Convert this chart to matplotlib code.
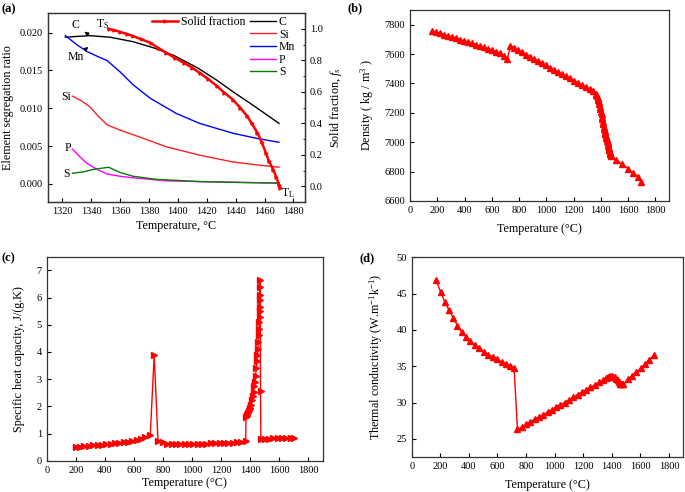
import matplotlib
matplotlib.use("Agg")
import matplotlib.pyplot as plt

plt.rcParams['font.family'] = ['Liberation Serif', 'DejaVu Serif']
plt.rcParams['mathtext.fontset'] = 'custom'
plt.rcParams['mathtext.rm'] = 'Liberation Serif'
plt.rcParams['mathtext.it'] = 'Liberation Serif:italic'
plt.rcParams['xtick.direction'] = 'in'
plt.rcParams['ytick.direction'] = 'in'

# ---------------- Panel (a) data ----------------
c_T = [1322, 1330, 1339, 1353, 1369, 1383, 1397, 1414, 1427, 1438, 1452, 1470]
c_v = [0.0194, 0.0195, 0.0196, 0.0194, 0.0188, 0.0180, 0.0170, 0.0153, 0.0137, 0.0122, 0.0104, 0.0080]
mn_T = [1322, 1330, 1337, 1345, 1351, 1360, 1369, 1381, 1399, 1415, 1438, 1455, 1470]
mn_v = [0.0196, 0.0184, 0.0175, 0.0168, 0.0163, 0.0148, 0.0131, 0.0113, 0.0093, 0.0080, 0.0067, 0.0060, 0.0055]
si_T = [1327, 1333, 1339, 1345, 1351, 1360, 1369, 1392, 1415, 1438, 1455, 1470]
si_v = [0.0116, 0.0110, 0.0102, 0.0089, 0.0078, 0.0071, 0.0065, 0.0049, 0.0038, 0.0029, 0.0025, 0.0022]
p_T = [1327, 1332, 1337, 1344, 1351, 1360, 1369, 1392, 1415, 1440, 1470]
p_v = [0.0046, 0.0036, 0.0027, 0.0019, 0.0013, 0.0010, 0.0008, 0.0004, 0.0003, 0.0002, 0.0001]
s_T = [1327, 1335, 1341, 1352, 1360, 1369, 1385, 1415, 1440, 1470]
s_v = [0.0014, 0.0016, 0.0019, 0.0022, 0.0015, 0.0010, 0.0006, 0.0003, 0.0002, 0.0001]
fs_T = [1352, 1356, 1360, 1365, 1369, 1375, 1381, 1386, 1392, 1398, 1404, 1410, 1415, 1421,
        1427, 1432, 1438, 1443, 1448, 1451, 1455, 1458, 1461, 1463, 1466, 1468, 1470, 1471]
fs_v = [1.00, 0.99, 0.98, 0.965, 0.953, 0.932, 0.91, 0.88, 0.847, 0.815, 0.784, 0.752, 0.72, 0.68,
        0.636, 0.595, 0.55, 0.50, 0.445, 0.40, 0.34, 0.28, 0.21, 0.16, 0.106, 0.06, 0.01, -0.01]

# ---------------- Panel (b) data ----------------
dens_T = [164, 193, 222, 251, 280, 309, 338, 367, 396, 425, 454, 483, 512, 541, 570, 599, 628, 657,
          686, 713,
          737, 766, 795, 824, 853, 882, 911, 940, 969, 998, 1027, 1056, 1085, 1114, 1143, 1172,
          1201, 1230, 1259, 1288, 1317, 1343,
          1363, 1368, 1372, 1376, 1380, 1384, 1388, 1392, 1397, 1401, 1405, 1409, 1412, 1415,
          1418, 1421, 1424, 1427, 1430, 1433, 1436, 1439, 1442, 1445, 1449, 1452, 1455, 1458,
          1460, 1463, 1465, 1468, 1470, 1473, 1477,
          1514, 1558, 1600, 1636, 1673, 1697]
dens_v = [7757, 7749, 7741, 7733, 7724, 7716, 7707, 7699, 7690, 7682, 7673, 7664, 7655, 7646,
          7637, 7627, 7617, 7605, 7590, 7566,
          7656, 7641, 7626, 7611, 7597, 7582, 7567, 7552, 7537, 7523, 7508, 7493, 7478, 7463,
          7449, 7434, 7419, 7404, 7390, 7375, 7361, 7347,
          7331, 7323, 7315, 7303, 7290, 7274, 7258, 7241, 7223, 7207, 7190, 7173, 7156, 7139,
          7122, 7105, 7088, 7076, 7065, 7054, 7043, 7032, 7021, 7010, 6999, 6987, 6975, 6964,
          6953, 6944, 6935, 6927, 6920, 6912, 6904,
          6881, 6849, 6820, 6793, 6764, 6726]

# ---------------- Panel (c) data ----------------
cp_T = [200, 230, 260, 290, 320, 350, 380, 410, 440, 470, 500, 530, 560, 590, 620, 650, 680, 713,
        740, 766, 800, 830,
        860, 890, 920, 950, 980, 1010, 1040, 1070, 1100, 1130, 1160, 1190, 1220, 1250, 1280, 1310,
        1340, 1370,
        1372, 1376, 1380, 1386, 1392, 1398, 1402, 1408, 1416, 1420, 1425, 1430, 1434, 1438, 1443,
        1447, 1451, 1454, 1457, 1460, 1462, 1464, 1465, 1466, 1467, 1467.5, 1468, 1469, 1469.5,
        1472, 1474,
        1500, 1530, 1560, 1590, 1620, 1650, 1680, 1700]
cp_v = [0.51, 0.52, 0.53, 0.55, 0.56, 0.58, 0.59, 0.61, 0.62, 0.64, 0.66, 0.68, 0.70, 0.73,
        0.77, 0.81, 0.86, 0.93,
        3.88, 0.73, 0.70, 0.62,
        0.60, 0.60, 0.61, 0.61, 0.61, 0.62, 0.62, 0.63, 0.63, 0.64, 0.64, 0.65, 0.65, 0.66, 0.66,
        0.67, 0.68, 0.72,
        1.59, 1.63, 1.67, 1.75, 1.82, 1.90, 1.95, 2.05, 2.24, 2.38, 2.54, 2.74, 2.91, 3.12, 3.40,
        3.65, 3.88, 4.12, 4.37, 4.62, 4.86, 5.10, 5.29, 5.50, 5.66, 5.90, 6.10, 6.40, 6.63,
        2.58, 0.81,
        0.81, 0.81, 0.82, 0.82, 0.82, 0.83, 0.83, 0.83]

# ---------------- Panel (d) data ----------------
k_T = [168, 203, 233, 261, 292, 320, 350, 380, 411, 443, 474, 506, 537, 567, 597, 630, 660, 691, 716,
       740, 770, 800, 830, 860, 890, 920, 950, 980, 1010, 1040, 1070, 1100, 1130, 1160, 1190, 1220,
       1250, 1280, 1310, 1340,
       1360, 1370, 1380, 1390, 1400, 1410, 1420, 1430, 1440, 1450, 1458, 1465, 1472, 1480,
       1512, 1542, 1572, 1602, 1632, 1662, 1692]
k_v = [46.9, 45.2, 43.8, 42.7, 41.6, 40.6, 39.7, 39.05, 38.5, 37.9, 37.45, 37.0, 36.6, 36.3, 35.95,
       35.6, 35.35, 35.1, 34.8,
       26.3, 26.6, 27.0, 27.3, 27.7, 28.0, 28.3, 28.7, 29.0, 29.4, 29.7, 30.0, 30.4, 30.7, 31.1,
       31.4, 31.7, 32.1, 32.4, 32.8, 33.1,
       33.4, 33.5, 33.55, 33.6, 33.6, 33.55, 33.45, 33.3, 33.1, 32.85, 32.6, 32.5, 32.5, 32.5,
       33.2, 33.7, 34.2, 34.7, 35.3, 35.9, 36.5]

W, H = 685, 492
fig = plt.figure(figsize=(W / 100, H / 100), dpi=100)


def add_ax(left, right, top, bottom):
    return fig.add_axes([left / W, 1 - bottom / H, (right - left) / W, (bottom - top) / H])


TICK = 7.5
LAB = 8.7
RED = '#ff0000'

# ---------- (a) ----------
axa = add_ax(48, 305, 13, 202)
la, = axa.plot(c_T, c_v, color='black', lw=1.0, label='C')
lb, = axa.plot(si_T, si_v, color='#ff2020', lw=1.0, label='Si')
lc, = axa.plot(mn_T, mn_v, color='#0000ff', lw=1.0, label='Mn')
ld, = axa.plot(p_T, p_v, color='#ff00ff', lw=1.0, label='P')
le, = axa.plot(s_T, s_v, color='#008000', lw=1.0, label='S')
axa.set_xlim(1310, 1488)
axa.set_ylim(-0.0024, 0.0226)
axa.set_xticks([1320, 1340, 1360, 1380, 1400, 1420, 1440, 1460, 1480])
axa.set_yticks([0.000, 0.005, 0.010, 0.015, 0.020])
axa.set_yticklabels(['0.000', '0.005', '0.010', '0.015', '0.020'])
axa.tick_params(labelsize=TICK, length=3)
axa.set_xlabel('Temperature, °C', fontsize=LAB, labelpad=3)
axa.set_ylabel('Element segregation ratio', fontsize=LAB, labelpad=4)

axa2 = axa.twinx()
lf, = axa2.plot(fs_T, fs_v, color=RED, lw=1.8, marker='>', ms=2.2, label='Solid fraction')
axa2.set_ylim(-0.1, 1.1)
axa2.set_yticks([0.0, 0.2, 0.4, 0.6, 0.8, 1.0])
axa2.set_yticks([0.1, 0.3, 0.5, 0.7, 0.9], minor=True)
axa2.tick_params(labelsize=TICK, length=3)
axa2.tick_params(which='minor', length=1.5)
axa2.set_ylabel('Solid fraction, $f_s$', fontsize=LAB, labelpad=4)

leg1 = axa.legend(handles=[la, lb, lc, ld, le], loc='upper left',
                  bbox_to_anchor=(250 / W, 1 - 16 / H), bbox_transform=fig.transFigure,
                  frameon=False, fontsize=8.5, handlelength=2.2, handletextpad=0.25,
                  labelspacing=0.05, borderpad=0, borderaxespad=0)
axa2.legend(handles=[lf], loc='upper left',
            bbox_to_anchor=(152 / W, 1 - 16 / H), bbox_transform=fig.transFigure,
            frameon=False, fontsize=8.5, handlelength=2.2, handletextpad=0.25,
            borderpad=0, borderaxespad=0)

ann = dict(fontsize=8.5, ha='center', va='center')
axa.annotate('C', xy=(1339, 0.0196), xytext=(1329, 0.0210),
             arrowprops=dict(arrowstyle='<|-', color='black', lw=0.7, mutation_scale=6,
                             shrinkA=2, shrinkB=0), **ann)
axa.annotate('Mn', xy=(1338, 0.0181), xytext=(1329, 0.01675),
             arrowprops=dict(arrowstyle='-|>', color='black', lw=0.7, mutation_scale=6,
                             shrinkA=3, shrinkB=0), **ann)
axa.text(1348, 0.0211, 'T$_\\mathrm{S}$', **ann)
axa.text(1322.8, 0.0115, 'Si', **ann)
axa.text(1323.5, 0.00475, 'P', **ann)
axa.text(1322.8, 0.0013, 'S', **ann)
axa.text(1476, -0.0012, 'T$_\\mathrm{L}$', **ann)

# ---------- (b) ----------
axb = add_ax(410, 669, 10, 201)
axb.plot(dens_T, dens_v, color=RED, lw=1.0, marker='^', ms=4)
axb.set_xlim(0, 1900)
axb.set_ylim(6600, 7900)
axb.set_xticks(range(0, 1801, 200))
axb.set_yticks(range(6600, 7801, 200))
axb.tick_params(labelsize=TICK, length=3)
axb.set_xlabel('Temperature (°C)', fontsize=LAB, labelpad=6)
axb.set_ylabel('Density ( kg / m$^3$ )', fontsize=LAB, labelpad=6)

# ---------- (c) ----------
axc = add_ax(46.7, 322.7, 256.7, 460.7)
axc.plot(cp_T, cp_v, color=RED, lw=1.0, marker='>', ms=3.8)
axc.set_xlim(0, 1900)
axc.set_ylim(0, 7.5)
axc.set_xticks(range(0, 1801, 200))
axc.set_yticks(range(0, 8))
axc.tick_params(labelsize=TICK, length=3)
axc.set_xlabel('Temperature (°C)', fontsize=LAB, labelpad=2)
axc.set_ylabel('Specific heat capacity, J/(g.K)', fontsize=LAB, labelpad=8)

# ---------- (d) ----------
axd = add_ax(411.7, 683.3, 257.3, 457)
axd.plot(k_T, k_v, color=RED, lw=1.0, marker='^', ms=4.3)
axd.set_xlim(0, 1900)
axd.set_ylim(22.5, 50)
axd.set_xticks(range(0, 1801, 200))
axd.set_yticks([25, 30, 35, 40, 45, 50])
axd.tick_params(labelsize=TICK, length=3)
axd.set_xlabel('Temperature (°C)', fontsize=LAB, labelpad=6)
axd.set_ylabel('Thermal conductivity (W.m$^{-1}$k$^{-1}$)', fontsize=LAB, labelpad=8)

for ax in (axa, axa2, axb, axc, axd):
    for sp in ax.spines.values():
        sp.set_color('#333333')
        sp.set_linewidth(0.9)

for lbl, (x, y) in zip(['(a)', '(b)', '(c)', '(d)'],
                       [(2, 9), (348, 8), (2, 258), (360, 258)]):
    fig.text(x / W, 1 - y / H, lbl, fontsize=9, fontweight='bold', ha='left', va='center')

fig.savefig('out.png', dpi=100)
